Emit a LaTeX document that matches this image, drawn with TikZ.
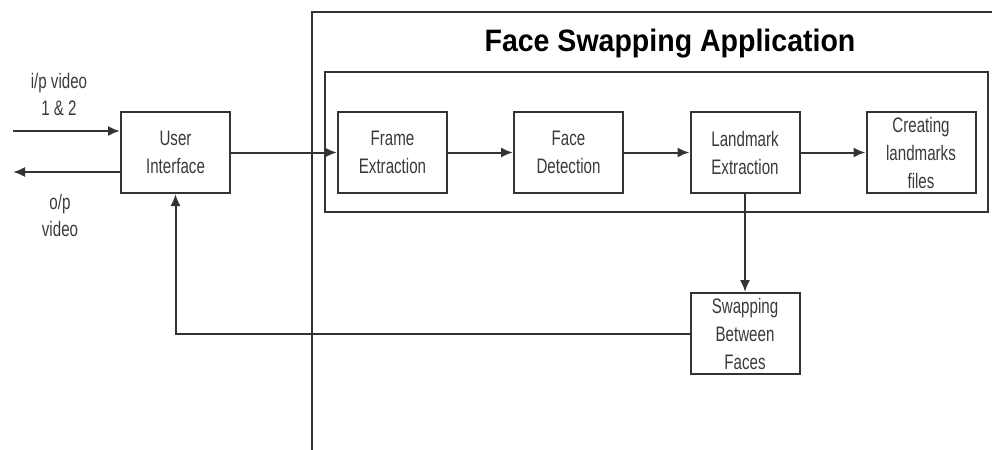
\documentclass[tikz,border=0pt]{standalone}
\usepackage{fontspec}
\setmainfont{Liberation Sans}
\newfontfamily\narrowfont[FakeStretch=0.72]{Liberation Sans}
\newfontfamily\titlefont[FakeStretch=0.92]{Liberation Sans}
\usetikzlibrary{arrows.meta}
\definecolor{ln}{HTML}{333333}
\definecolor{tx}{HTML}{3A3A3A}
\begin{document}
\begin{tikzpicture}[x=0.5pt,y=-0.5pt,
  blk/.style={draw=ln,line width=1pt,minimum width=54.5pt,minimum height=40.5pt,
    inner sep=0pt,align=center,text=tx,font=\narrowfont\fontsize{10.5}{14}\selectfont},
  lbl/.style={align=center,text=tx,inner sep=0pt,font=\narrowfont\fontsize{10.5}{13.5}\selectfont},
  conn/.style={draw=ln,line width=1pt},
  arr/.style={conn,-{Latex[length=6pt,width=5pt]}}]
\useasboundingbox (0,0) rectangle (992,450);
% outer application frame
\draw[conn] (312,450) -- (312,12) -- (992,12);
\node[font=\titlefont\bfseries\fontsize{15.5}{18}\selectfont,inner sep=0pt] (title) at (670,44) {Face Swapping Application};
% inner frame
\draw[conn] (325,72) rectangle (988,212);
% blocks
\node[blk] (ui) at (175.5,152.5) {User\\Interface};
\node[blk] (fe) at (392.5,152.5) {Frame\\Extraction};
\node[blk] (fd) at (568.5,152.5) {Face\\Detection};
\node[blk] (le) at (745,152.5) {Landmark\\Extraction};
\node[blk] (cl) at (921,152.5) {Creating\\landmarks\\files};
\node[blk] (sw) at (745,333.5) {Swapping\\Between\\Faces};
% io labels
\node[lbl] (inl) at (59,94) {i/p video\\1 \& 2};
\node[lbl] (outl) at (60,215) {o/p\\video};
\coordinate (inS) at (13,131);
\coordinate (outE) at (13,172);
% connectors
\draw[arr] (inS) -- (inS -| ui.west);
\draw[arr] (outE -| ui.west) -- (outE);
\draw[arr] (ui.east) -- (fe.west);
\draw[arr] (fe.east) -- (fd.west);
\draw[arr] (fd.east) -- (le.west);
\draw[arr] (le.east) -- (cl.west);
\draw[arr] (le.south) -- (sw.north);
\draw[arr] (sw.west) -- (sw.west -| ui.south) -- (ui.south);
\end{tikzpicture}
\end{document}
